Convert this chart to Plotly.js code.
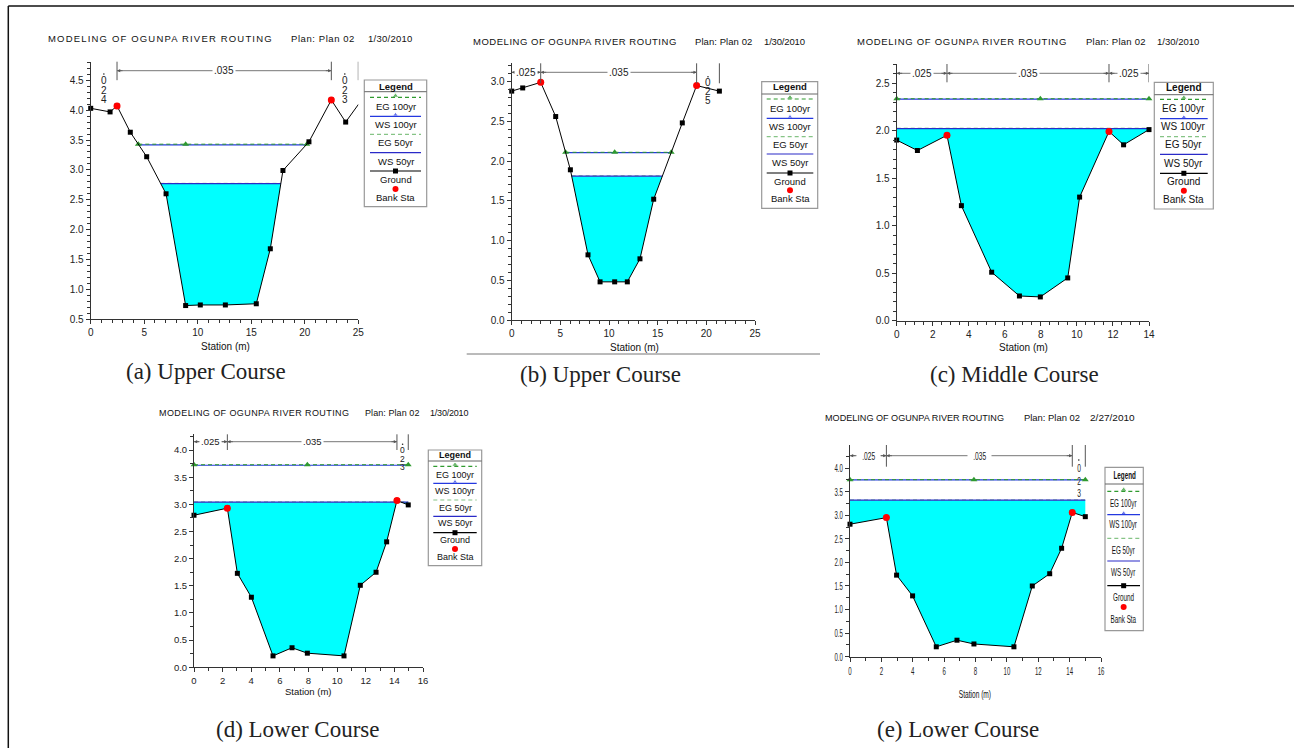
<!DOCTYPE html>
<html><head><meta charset="utf-8">
<script src="https://cdn.plot.ly/plotly-3.0.1.min.js"></script>
<style>html,body{margin:0;padding:0;background:#fff}#chart{width:1294px;height:748px}</style>
</head><body><div id="chart"></div>
<script>
// ================= DATA =================
// Ground profiles (station m, elevation m) for the five cross sections
const stationA = [0, 1.81, 2.46, 3.70, 5.23, 7.04, 8.87, 10.24, 12.58, 15.47, 16.78, 17.96, 20.39, 22.48, 23.82, 25.03];
const elevA    = [4.03, 3.97, 4.07, 3.63, 3.22, 2.60, 0.73, 0.74, 0.74, 0.76, 1.68, 2.99, 3.47, 4.17, 3.80, 4.10];
const stationB = [0, 1.13, 2.98, 4.52, 6.03, 7.84, 9.08, 10.58, 11.88, 13.18, 14.59, 17.53, 19.0, 21.34];
const elevB    = [2.88, 2.92, 2.99, 2.56, 1.89, 0.82, 0.48, 0.48, 0.48, 0.77, 1.52, 2.48, 2.95, 2.88];
const stationC = [0, 1.15, 2.79, 3.59, 5.27, 6.81, 7.97, 9.49, 10.15, 11.78, 12.59, 14.0];
const elevC    = [1.90, 1.79, 1.95, 1.21, 0.51, 0.26, 0.25, 0.45, 1.30, 1.99, 1.85, 2.01];
const stationD = [0, 2.33, 3.03, 4.01, 5.52, 6.85, 7.92, 10.48, 11.62, 12.72, 13.46, 14.18, 14.97];
const elevD    = [2.80, 2.93, 1.73, 1.29, 0.21, 0.36, 0.26, 0.21, 1.51, 1.75, 2.31, 3.07, 2.99];
const stationE = [0, 2.32, 2.97, 3.99, 5.50, 6.82, 7.90, 10.45, 11.62, 12.73, 13.49, 14.17, 15.0];
const elevE    = [2.81, 2.95, 1.73, 1.29, 0.21, 0.35, 0.27, 0.21, 1.50, 1.76, 2.30, 3.06, 2.97];
// Bank stations
const bankStaA = [2.46, 22.48];  const bankElevA = [4.07, 4.17];
const bankStaB = [2.98, 19.0];   const bankElevB = [2.99, 2.95];
const bankStaC = [2.79, 11.78];  const bankElevC = [1.95, 1.99];
const bankStaD = [2.33, 14.18];  const bankElevD = [2.93, 3.07];
const bankStaE = [2.32, 14.17];  const bankElevE = [2.95, 3.06];
// Profiles (panel a..e)
const ws50yr  = [2.77, 1.81, 2.02, 3.04, 3.32];
const eg50yr  = [2.775, 1.815, 2.025, 3.045, 3.325];
const ws100yr = [3.42, 2.105, 2.33, 3.72, 3.75];
const eg100yr = [3.43, 2.11, 2.335, 3.73, 3.755];
const egMidStation = [8.87, 10.58, 7.97, 7.92, 7.90];
// Manning's n
const nLeft  = ['.024', '.025', '.025', '.025', '.025'];
const nMain  = ['.035', '.035', '.035', '.035', '.035'];
const nRight = ['.023', '.025', '.025', '.023', '.023'];
// Text
const plotTitle = 'MODELING OF OGUNPA RIVER ROUTING';
const planLabel = 'Plan: Plan 02';
const runDates = ['1/30/2010', '1/30/2010', '1/30/2010', '1/30/2010', '2/27/2010'];
const captions = ['(a) Upper Course', '(b) Upper Course', '(c) Middle Course', '(d) Lower Course', '(e) Lower Course'];
const legendLabels = ['EG 100yr', 'WS 100yr', 'EG 50yr', 'WS 50yr', 'Ground', 'Bank Sta'];
const axisTitle = 'Station (m)';
const legendTitle = 'Legend';

// ================= LAYOUT CONFIG =================
const W = 1294, H = 748;
const SANS = 'Liberation Sans, Arial, sans-serif';
const SERIF = 'Liberation Serif, Times New Roman, serif';
const C_EG100 = '#2f9a2f', C_EG50 = '#86c486', C_WS100 = '#2438e0', C_WS50 = '#2a2ac8';

const data = [
  {st: stationA, el: elevA, bs: bankStaA, be: bankElevA},
  {st: stationB, el: elevB, bs: bankStaB, be: bankElevB},
  {st: stationC, el: elevC, bs: bankStaC, be: bankElevC},
  {st: stationD, el: elevD, bs: bankStaD, be: bankElevD},
  {st: stationE, el: elevE, bs: bankStaE, be: bankElevE}
];

const cfg = [
  {box:[90.7,61.7,358.3,319.3], xr:[0,25], yr:[0.5,4.81], xdt:5, xmn:1, ydt:0.5, ymn:0.1,
   arrowOff:9, sepLen:18.5, vDot:12.3, vFirst:19, vStep:9.3, vfs:10, fs:10, squeeze:1,
   title:{y:38.7, x:[45.7,289.3,365.7], w:[223.6,63.4,44.3], fs:9.5},
   xtitle:[225,346.7], caption:[206,371],
   leg:{box:[364.3,80,426.7,206.7], head:86, sep:91.7, lx:[370,421], ly:[97.3,116.3,134.3,152.7,171,189], ty:[106.3,124.7,142.7,161.7,179.3,197.3], fs:9.5}},
  {box:[511.7,63.3,755,320], xr:[0,25], yr:[0,3.23], xdt:5, xmn:1, ydt:0.5, ymn:0.1,
   arrowOff:9, sepLen:20, vDot:13.4, vFirst:19, vStep:9.3, vfs:10, fs:10, squeeze:1,
   title:{y:41.7, x:[471,692.7,761.7], w:[203.3,57.3,41], fs:9.5},
   xtitle:[634,347.7], caption:[600,374],
   leg:{box:[761.7,81.7,817.7,208.3], head:86.7, sep:94, lx:[766.7,813.3], ly:[99,118.3,136.7,154,173,190.3], ty:[108.3,126,144,162.7,181,198.7], fs:9.5}},
  {box:[896.7,64,1149,320.7], xr:[0,14], yr:[0,2.70], xdt:2, xmn:0.5, ydt:0.5, ymn:0.1,
   arrowOff:9.3, sepLen:18.3, vDot:12, vFirst:19, vStep:9.3, vfs:10, fs:10, squeeze:1,
   title:{y:41.7, x:[855,1083.7,1155], w:[209.3,59.6,42.3], fs:9.5},
   xtitle:[1023,347.7], caption:[1014,374],
   leg:{box:[1154.3,82.3,1213.3,209], head:87.3, sep:94.7, lx:[1160,1207.7], ly:[99.3,118.7,136.7,154.3,173.3,190.7], ty:[108.7,126.7,144.7,163.3,181,199.3], fs:10}},
  {box:[194,434.3,423,667.3], xr:[0,16], yr:[0,4.29], xdt:2, xmn:1, ydt:0.5, ymn:0.25,
   arrowOff:7.4, sepLen:15.7, vDot:10, vFirst:15.9, vStep:8.6, vfs:8.5, fs:9.5, squeeze:1,
   title:{y:413.3, x:[156.7,363.3,428.3], w:[190,54.4,38.4], fs:9},
   xtitle:[308.3,691], caption:[298,729.5],
   leg:{box:[428.3,450,481.7,565.7], head:455, sep:461, lx:[433.3,476.7], ly:[466.3,483.3,500,516.3,532.7,549], ty:[475,490.7,507.7,523.3,540.3,556.7], fs:9}},
  {box:[850,445,1101,656.7], xr:[0,16], yr:[0,4.49], xdt:2, xmn:1, ydt:0.5, ymn:0.25,
   arrowOff:10.7, sepLen:21.7, vDot:15, vFirst:23.3, vStep:12.5, vfs:11, fs:11, squeeze:0.6,
   title:{y:417.7, x:[823.3,1021.7,1088.3], w:[179,56,44.7], fs:9.8},
   xtitle:[975,693.7], caption:[958,729],
   leg:{box:[1105,467.3,1143.3,630.7], head:475, sep:484, lx:[1107.3,1140], ly:[491.3,514.7,538.3,561,585.7,607], ty:[503.3,524.3,550,572.3,596.7,619], fs:10.5}}
];

// ================= HELPERS =================
function submerged(st, el, level) {
  const segs = []; let cur = null;
  for (let i = 0; i < st.length; i++) {
    const below = el[i] <= level;
    if (i > 0) {
      const pb = el[i-1] <= level;
      if (pb !== below) {
        const t = (level - el[i-1]) / (el[i] - el[i-1]);
        const xc = st[i-1] + t * (st[i] - st[i-1]);
        if (below) { cur = {xs:[xc], ys:[level]}; }
        else { cur.xs.push(xc); cur.ys.push(level); segs.push(cur); cur = null; }
      }
    }
    if (below) {
      if (!cur) cur = {xs:[st[i], st[i]], ys:[level, el[i]]};
      else { cur.xs.push(st[i]); cur.ys.push(el[i]); }
    }
  }
  if (cur) { cur.xs.push(cur.xs[cur.xs.length-1]); cur.ys.push(level); segs.push(cur); }
  return segs;
}
function levelLine(st, el, level) {
  const xs = [], ys = [];
  submerged(st, el, level).forEach((s, k) => {
    if (k) { xs.push(null); ys.push(null); }
    xs.push(s.xs[0], s.xs[s.xs.length-1]); ys.push(level, level);
  });
  return {xs, ys};
}

const traces = [];
const layout = {
  width: W, height: H, margin: {l:0, r:0, t:0, b:0},
  paper_bgcolor: '#fff', plot_bgcolor: 'rgba(0,0,0,0)', showlegend: false,
  shapes: [], annotations: [],
  xaxis6: {domain:[0,1], range:[0,W], visible:false, fixedrange:true, anchor:'y6'},
  yaxis6: {domain:[0,1], range:[H,0], visible:false, fixedrange:true, anchor:'x6'}
};
const fitList = [];
function addAnn(a, fit) {
  if (fit) fitList.push(Object.assign({idx: layout.annotations.length}, fit));
  layout.annotations.push(a);
}

cfg.forEach((p, i) => {
  const d = data[i];
  const s = i === 0 ? '' : String(i + 1);
  const xa = 'x' + s, ya = 'y' + s;
  const [bx0, by0, bx1, by1] = p.box;
  const ph = by1 - by0;
  const sq = p.squeeze < 1 ? {k: p.squeeze} : null;
  const tickFont = {family: SANS, size: p.fs, color: '#222'};
  layout['xaxis' + s] = {
    domain: [bx0 / W, bx1 / W], range: p.xr, anchor: ya, showline: true, linecolor: '#333', linewidth: 1,
    ticks: 'outside', ticklen: 4, tickcolor: '#333', tick0: 0, dtick: p.xdt, showgrid: false, zeroline: false,
    minor: {dtick: p.xmn, ticks: 'outside', ticklen: 3, tickcolor: '#333', showgrid: false},
    tickfont: tickFont, fixedrange: true
  };
  layout['yaxis' + s] = {
    domain: [1 - by1 / H, 1 - by0 / H], range: p.yr, anchor: xa, showline: true, linecolor: '#333', linewidth: 1,
    ticks: 'outside', ticklen: 4, tickcolor: '#333', tick0: 0, dtick: p.ydt, tickformat: '.1f',
    showgrid: false, zeroline: false,
    minor: {dtick: p.ymn, ticks: 'outside', ticklen: 3, tickcolor: '#333', showgrid: false},
    tickfont: tickFont, fixedrange: true
  };
  submerged(d.st, d.el, ws50yr[i]).forEach(sg => traces.push({
    type: 'scatter', x: sg.xs, y: sg.ys, xaxis: xa, yaxis: ya, mode: 'lines', fill: 'toself',
    fillcolor: '#00FFFF', line: {width: 0}, hoverinfo: 'skip'
  }));
  let L = levelLine(d.st, d.el, eg50yr[i]);
  traces.push({type:'scatter', x:L.xs, y:L.ys, xaxis:xa, yaxis:ya, mode:'lines', line:{color:C_EG50, width:1, dash:'4px,3px'}});
  L = levelLine(d.st, d.el, ws50yr[i]);
  traces.push({type:'scatter', x:L.xs, y:L.ys, xaxis:xa, yaxis:ya, mode:'lines', line:{color:C_WS50, width:1.2}});
  L = levelLine(d.st, d.el, ws100yr[i]);
  traces.push({type:'scatter', x:L.xs, y:L.ys, xaxis:xa, yaxis:ya, mode:'lines', line:{color:C_WS100, width:1.2}});
  L = levelLine(d.st, d.el, eg100yr[i]);
  traces.push({type:'scatter', x:L.xs, y:L.ys, xaxis:xa, yaxis:ya, mode:'lines', line:{color:C_EG100, width:1, dash:'4px,3px'}});
  const xsEnds = L.xs.filter(v => v !== null);
  traces.push({type:'scatter', x:[xsEnds[0], egMidStation[i], xsEnds[xsEnds.length-1]], y:[eg100yr[i], eg100yr[i], eg100yr[i]],
    xaxis:xa, yaxis:ya, mode:'markers', cliponaxis:false, marker:{symbol:'triangle-up', size:6, color:C_EG100}});
  traces.push({type:'scatter', x:d.st, y:d.el, xaxis:xa, yaxis:ya, mode:'lines+markers', cliponaxis:false,
    line:{color:'#000', width:1}, marker:{symbol:'square', size:5, color:'#000'}});
  traces.push({type:'scatter', x:d.bs, y:d.be, xaxis:xa, yaxis:ya, mode:'markers', cliponaxis:false,
    marker:{symbol:'circle', size:7, color:'#ff0000'}});

  // Manning's n separators and labels
  const last = Math.min(d.st[d.st.length-1], p.xr[1]);
  const seps = [d.bs[0], d.bs[1], last];
  const yd = off => 1 - off / ph;
  seps.forEach(xv => layout.shapes.push({type:'line', xref:xa, yref:ya + ' domain', x0:xv, x1:xv, y0:1, y1:yd(p.sepLen),
    line:{color:'#555', width:1}}));
  const pxPerUnit = (bx1 - bx0) / (p.xr[1] - p.xr[0]);
  const segsN = [[p.xr[0], d.bs[0], nLeft[i]], [d.bs[0], d.bs[1], nMain[i]], [d.bs[1], last, nRight[i]]];
  segsN.forEach(([a, b, lab]) => {
    const wpx = (b - a) * pxPerUnit;
    const mid = (a + b) / 2;
    if (wpx < 28) {
      lab.split('').forEach((ch, k) => {
        if (ch === '.') {
          layout.shapes.push({type:'circle', xref:xa, yref:ya + ' domain', xsizemode:'pixel', ysizemode:'pixel',
            xanchor:mid, yanchor:yd(p.vDot), x0:-0.8, x1:0.8, y0:-0.8, y1:0.8, fillcolor:'#222', line:{width:0}});
        } else {
          addAnn({xref:xa, yref:ya + ' domain', x:mid, y:yd(p.vFirst + (k - 1) * p.vStep), text:ch, showarrow:false,
            font:{family:SANS, size:p.vfs, color:'#222'}, xanchor:'center', yanchor:'middle'}, sq);
        }
      });
    } else {
      const yy = yd(p.arrowOff);
      layout.shapes.push({type:'line', xref:xa, yref:ya + ' domain', x0:a, x1:b, y0:yy, y1:yy, line:{color:'#777', width:1}});
      layout.annotations.push({xref:xa, yref:ya + ' domain', x:a, y:yy, ax:7, ay:0, axref:'pixel', ayref:'pixel', text:'',
        showarrow:true, arrowhead:2, arrowsize:0.8, arrowwidth:0.8, arrowcolor:'#555'});
      layout.annotations.push({xref:xa, yref:ya + ' domain', x:b, y:yy, ax:-7, ay:0, axref:'pixel', ayref:'pixel', text:'',
        showarrow:true, arrowhead:2, arrowsize:0.8, arrowwidth:0.8, arrowcolor:'#555'});
      addAnn({xref:xa, yref:ya + ' domain', x:mid, y:yy, text:lab, showarrow:false, bgcolor:'#fff', borderpad:1,
        font:{family:SANS, size:p.fs, color:'#222'}, xanchor:'center', yanchor:'middle'}, sq);
    }
  });

  // Panel header text
  [plotTitle, planLabel, runDates[i]].forEach((t, k) => {
    addAnn({xref:'x6', yref:'y6', x:p.title.x[k], y:p.title.y, text:t, showarrow:false, align:'left',
      xanchor:'left', yanchor:'middle', font:{family:SANS, size:p.title.fs, color:'#111'}},
      {w: p.title.w[k], glyphs: p.squeeze < 1});
  });
  addAnn({xref:'x6', yref:'y6', x:p.xtitle[0], y:p.xtitle[1], text:axisTitle, showarrow:false,
    xanchor:'center', yanchor:'middle', font:{family:SANS, size:p.fs, color:'#111'}}, sq);
  layout.annotations.push({xref:'x6', yref:'y6', x:p.caption[0], y:p.caption[1], text:captions[i], showarrow:false,
    xanchor:'center', yanchor:'middle', font:{family:SERIF, size:23, color:'#222'}});

  // Legend box
  const lg = p.leg;
  layout.shapes.push({type:'rect', xref:'x6', yref:'y6', x0:lg.box[0], x1:lg.box[2], y0:lg.box[1], y1:lg.box[3],
    line:{color:'#999', width:1.2}, fillcolor:'rgba(0,0,0,0)', layer:'above'});
  layout.shapes.push({type:'line', xref:'x6', yref:'y6', x0:lg.box[0], x1:lg.box[2], y0:lg.sep, y1:lg.sep,
    line:{color:'#666', width:1}, layer:'above'});
  addAnn({xref:'x6', yref:'y6', x:(lg.box[0]+lg.box[2])/2, y:lg.head, text:'<b>' + legendTitle + '</b>',
    showarrow:false, xanchor:'center', yanchor:'middle', font:{family:SANS, size:lg.fs, color:'#111'}}, sq);
  const lineStyles = [
    {color:C_EG100, dash:'4px,3px'}, {color:C_WS100, dash:'solid'}, {color:C_EG50, dash:'4px,3px'},
    {color:C_WS50, dash:'solid'}, {color:'#000', dash:'solid'}, null
  ];
  const cx = (lg.lx[0] + lg.lx[1]) / 2;
  legendLabels.forEach((lab, k) => {
    if (lineStyles[k]) layout.shapes.push({type:'line', xref:'x6', yref:'y6', x0:lg.lx[0], x1:lg.lx[1], y0:lg.ly[k], y1:lg.ly[k],
      line:{color:lineStyles[k].color, width:1.2, dash:lineStyles[k].dash}, layer:'above'});
    addAnn({xref:'x6', yref:'y6', x:cx, y:lg.ty[k], text:lab, showarrow:false, xanchor:'center', yanchor:'middle',
      font:{family:SANS, size:lg.fs, color:'#111'}}, sq);
  });
  traces.push({type:'scatter', xaxis:'x6', yaxis:'y6', mode:'markers', x:[cx, cx], y:[lg.ly[0]-1.5, lg.ly[1]-1.5],
    marker:{symbol:'triangle-up', size:[6,5], color:[C_EG100, C_WS100]}, cliponaxis:false, hoverinfo:'skip'});
  traces.push({type:'scatter', xaxis:'x6', yaxis:'y6', mode:'markers', x:[cx], y:[lg.ly[4]],
    marker:{symbol:'square', size:5, color:'#000'}, cliponaxis:false, hoverinfo:'skip'});
  traces.push({type:'scatter', xaxis:'x6', yaxis:'y6', mode:'markers', x:[cx], y:[lg.ly[5]],
    marker:{symbol:'circle', size:6, color:'#ff0000'}, cliponaxis:false, hoverinfo:'skip'});
});

// Outer frame and separator rule under (b)
layout.shapes.push({type:'line', xref:'x6', yref:'y6', x0:8.3, x1:W+5, y0:6, y1:6, line:{color:'#111', width:1.5}, layer:'above'});
layout.shapes.push({type:'line', xref:'x6', yref:'y6', x0:8.3, x1:8.3, y0:6, y1:H+5, line:{color:'#111', width:1.5}, layer:'above'});
layout.shapes.push({type:'line', xref:'x6', yref:'y6', x0:466.7, x1:820, y0:354, y1:354, line:{color:'#777', width:1}, layer:'above'});

function condense() {
  fitList.forEach(f => {
    const el = document.querySelector('.annotation[data-index="' + f.idx + '"] text.annotation-text');
    if (!el || el.getAttribute('data-fit')) return;
    const len = el.getComputedTextLength();
    const target = f.w ? f.w : len * f.k;
    el.setAttribute('textLength', target.toFixed(1));
    el.setAttribute('lengthAdjust', (f.k || f.glyphs) ? 'spacingAndGlyphs' : 'spacing');
    el.setAttribute('data-fit', '1');
  });
  // condensed tick labels for panel (e): Plotly names tick groups '<axisId>tick'
  document.querySelectorAll('g.x5tick text, g.y5tick text').forEach(el => {
    if (el.getAttribute('data-fit')) return;
    const len = el.getComputedTextLength();
    if (!len) return;
    el.setAttribute('textLength', (len * 0.55).toFixed(1));
    el.setAttribute('lengthAdjust', 'spacingAndGlyphs');
    el.setAttribute('data-fit', '1');
  });
}
const gd = document.getElementById('chart');
Plotly.newPlot(gd, traces, layout, {staticPlot:true, displayModeBar:false}).then(() => {
  condense();
  setTimeout(condense, 50);
});
</script>
</body></html>
